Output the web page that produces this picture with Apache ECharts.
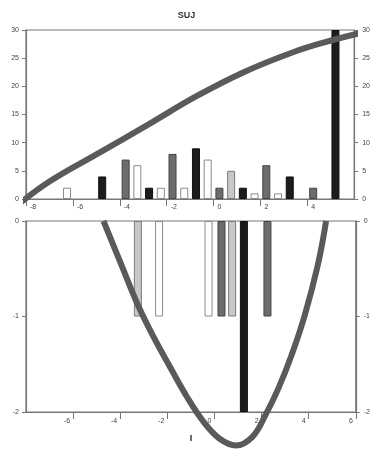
<!DOCTYPE html>
<html>
<head>
<meta charset="utf-8">
<script src="https://cdn.jsdelivr.net/npm/echarts@6/dist/echarts.min.js"></script>
<style>html,body{margin:0;padding:0;background:#fff}#c{width:373px;height:450px}</style>
</head>
<body>
<div id="c"></div>
<script>
// ---- data ----
const titleText = 'SUJ';
const xName = 'I';
// upper panel bars
const topX     = [-6.25, -4.75, -3.75, -3.25, -2.75, -2.25, -1.75, -1.25, -0.75, -0.25, 0.25, 0.75, 1.25, 1.75, 2.25, 2.75, 3.25, 4.25, 5.2];
const topY     = [2, 4, 7, 6, 2, 2, 8, 2, 9, 7, 2, 5, 2, 1, 6, 1, 4, 2, 30];
const topShade = ['w','k','m','w','k','w','m','w','k','w','m','l','k','w','m','w','k','m','k'];
// lower panel bars
const botX     = [-3.25, -2.35, -0.25, 0.3, 0.75, 1.25, 2.25];
const botY     = [-1, -1, -1, -1, -1, -2, -1];
const botShade = ['l','w','w','m','l','k','m'];
// upper curve
const topLineX = [-8.46, -7.0, -4.92, -2.83, -0.75, 1.33, 3.42, 4.8, 6.2];
const topLineY = [-1.4, 3.1, 8.1, 13.1, 18.2, 22.6, 26.1, 27.9, 29.4];
// lower curve
const botLineX = [-4.71, -3.95, -3.25, -2.55, -1.86, -1.17, -0.47, 0.22, 0.92, 1.61, 2.17, 2.72, 3.28, 3.83, 4.39, 4.74];
const botLineY = [0, -0.46, -0.88, -1.23, -1.54, -1.84, -2.10, -2.28, -2.35, -2.26, -2.03, -1.75, -1.40, -0.99, -0.46, 0];

// ---- styles ----
const shadeStyle = {
  w: {color:'#ffffff', borderColor:'#8a8a8a', borderWidth:1},
  l: {color:'#c8c8c8', borderColor:'#7a7a7a', borderWidth:1},
  m: {color:'#6c6c6c', borderColor:'#444', borderWidth:1},
  k: {color:'#1c1c1c', borderColor:'#111', borderWidth:1}
};
const axisCol = '#777';
const lblStyle = {fontSize:7, color:'#444', fontFamily:'Liberation Sans'};
const aLine = {show:true, onZero:false, lineStyle:{color:axisCol, width:1.2}};

const bars = (xs, ys, sh) => xs.map((x,i)=>({value:[x, ys[i]], itemStyle:shadeStyle[sh[i]]}));
const pts = (xs, ys) => xs.map((x,i)=>[x, ys[i]]);

const chart = echarts.init(document.getElementById('c'), null, {renderer:'canvas'});
chart.setOption({
  animation:false,
  title:{text:titleText, left:'center', top:6, textStyle:{fontSize:9, fontWeight:'bold', color:'#333', fontFamily:'Liberation Sans'}},
  grid:[
    {left:26, right:11, top:30, height:169, show:true, borderColor:axisCol, borderWidth:1.2},
    {left:26, right:11, top:221, height:191, show:true, borderColor:axisCol, borderWidth:1.2}
  ],
  xAxis:[
    {gridIndex:0, type:'value', min:-8, max:6, interval:2, splitLine:{show:false},
     axisLine:aLine, axisTick:{length:7, lineStyle:{color:axisCol}},
     axisLabel:Object.assign({}, lblStyle, {align:'left', padding:[0,0,0,4], margin:5, showMaxLabel:false})},
    {gridIndex:1, type:'value', min:-8, max:6, interval:2, splitLine:{show:false},
     name:xName, nameLocation:'middle', nameGap:22, nameTextStyle:{fontSize:9, fontWeight:'bold', color:'#222'},
     axisLine:aLine, axisTick:{length:7, lineStyle:{color:axisCol}},
     axisLabel:Object.assign({}, lblStyle, {align:'right', padding:[0,3,0,0], margin:6, showMinLabel:false})}
  ],
  yAxis:[
    {gridIndex:0, type:'value', min:0, max:30, interval:5, splitLine:{show:false},
     axisLine:aLine, axisTick:{show:true, length:4, lineStyle:{color:axisCol}},
     axisLabel:Object.assign({}, lblStyle, {margin:7})},
    {gridIndex:0, type:'value', position:'right', min:0, max:30, interval:5, splitLine:{show:false},
     axisLine:aLine, axisTick:{show:true, length:4, lineStyle:{color:axisCol}},
     axisLabel:Object.assign({}, lblStyle, {margin:8})},
    {gridIndex:1, type:'value', min:-2, max:0, interval:1, splitLine:{show:false},
     axisLine:aLine, axisTick:{show:true, length:4, lineStyle:{color:axisCol}},
     axisLabel:Object.assign({}, lblStyle, {margin:7})},
    {gridIndex:1, type:'value', position:'right', min:-2, max:0, interval:1, splitLine:{show:false},
     axisLine:aLine, axisTick:{show:true, length:4, lineStyle:{color:axisCol}},
     axisLabel:Object.assign({}, lblStyle, {margin:8})}
  ],
  series:[
    {type:'bar', xAxisIndex:0, yAxisIndex:0, barWidth:8, data:bars(topX, topY, topShade), z:2},
    {type:'bar', xAxisIndex:1, yAxisIndex:2, barWidth:8, data:bars(botX, botY, botShade), z:2},
    {type:'line', xAxisIndex:0, yAxisIndex:0, data:pts(topLineX, topLineY), smooth:0.4, showSymbol:false, clip:false,
     lineStyle:{color:'#5a5a5a', width:6}, z:5},
    {type:'line', xAxisIndex:1, yAxisIndex:2, data:pts(botLineX, botLineY), smooth:0.4, showSymbol:false, clip:false,
     lineStyle:{color:'#5a5a5a', width:6}, z:5}
  ]
});
</script>
</body>
</html>
